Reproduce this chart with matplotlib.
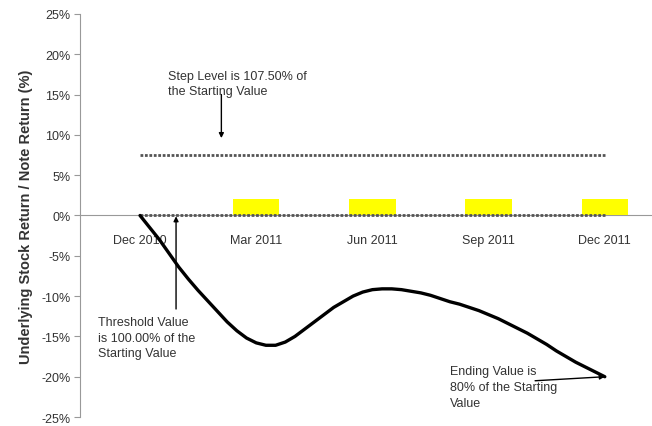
import matplotlib.pyplot as plt
import numpy as np

plt.rcParams['font.family'] = ['Liberation Sans', 'DejaVu Sans']

# months after Dec 2010, every quarter month
months = [0, 0.25, 0.5, 0.75, 1, 1.25, 1.5, 1.75, 2, 2.25, 2.5, 2.75, 3,
          3.25, 3.5, 3.75, 4, 4.25, 4.5, 4.75, 5, 5.25, 5.5, 5.75, 6,
          6.25, 6.5, 6.75, 7, 7.25, 7.5, 7.75, 8, 8.25, 8.5, 8.75, 9,
          9.25, 9.5, 9.75, 10, 10.25, 10.5, 10.75, 11, 11.25, 11.5, 11.75, 12]
stock_return = [0, -1.5, -3.0, -4.7, -6.4, -7.9, -9.3, -10.6, -11.9, -13.2,
                -14.3, -15.2, -15.8, -16.1, -16.1, -15.7, -15.0, -14.1, -13.2,
                -12.3, -11.4, -10.7, -10.0, -9.5, -9.2, -9.1, -9.1, -9.2,
                -9.4, -9.6, -9.9, -10.3, -10.7, -11.0, -11.4, -11.8, -12.3,
                -12.8, -13.4, -14.0, -14.6, -15.3, -16.0, -16.8, -17.5,
                -18.2, -18.8, -19.4, -20.0]

quarter_pos = [0, 3, 6, 9, 12]
quarter_labels = ['Dec 2010', 'Mar 2011', 'Jun 2011', 'Sep 2011', 'Dec 2011']
note_return = [0, 2, 2, 2, 2]   # yellow bars (observation dates)

step_level = 7.5
threshold = 0.0
y_ticks = [25, 20, 15, 10, 5, 0, -5, -10, -15, -20, -25]

fig = plt.figure(figsize=(6.52, 4.27), dpi=100)
ax = fig.add_axes([0.1227, 0.021, 0.875, 0.944])

# yellow note-return bars
ax.bar(quarter_pos[1:], note_return[1:], width=1.2, color='#ffff00', zorder=2)

# step level and threshold dotted lines
ax.plot([quarter_pos[0], quarter_pos[-1]], [step_level, step_level],
        color='#555555', lw=2, ls=(0, (1, 0.6)), zorder=3)
ax.plot([quarter_pos[0], quarter_pos[-1]], [threshold, threshold],
        color='#555555', lw=2, ls=(0, (1, 0.6)), zorder=3)

# stock return curve
ax.plot(months, stock_return, color='black', lw=2.4, zorder=4,
        solid_capstyle='round', solid_joinstyle='round')

ax.set_xlim(-1.55, 13.18)
ax.set_ylim(-25, 25)

ax.spines['top'].set_visible(False)
ax.spines['right'].set_visible(False)
ax.spines['left'].set_color('#999999')
ax.spines['bottom'].set_position(('data', 0))
ax.spines['bottom'].set_color('#999999')
ax.spines['bottom'].set_zorder(1)

ax.set_yticks(y_ticks)
ax.set_yticklabels(['%d%%' % v for v in y_ticks])
ax.tick_params(axis='y', length=4, color='#999999', labelsize=9,
               labelcolor='#333333', pad=3)
ax.set_xticks(quarter_pos)
ax.set_xticklabels(quarter_labels)
ax.tick_params(axis='x', length=0, labelsize=9, labelcolor='#333333', pad=13)

ax.set_ylabel('Underlying Stock Return / Note Return (%)', fontsize=10.5,
              fontweight='bold', color='#333333', labelpad=6)

arrow = dict(arrowstyle='-|>', lw=1, color='black', mutation_scale=7,
             shrinkA=0, shrinkB=0)

ax.annotate('', xy=(2.10, 9.6), xytext=(2.10, 15.0), arrowprops=arrow)
ax.text(0.72, 18.1, 'Step Level is 107.50% of\nthe Starting Value',
        fontsize=9, color='#333333', va='top', ha='left', linespacing=1.4)

ax.annotate('', xy=(0.93, -0.1), xytext=(0.93, -11.6), arrowprops=arrow)
ax.text(-1.08, -12.5, 'Threshold Value\nis 100.00% of the\nStarting Value',
        fontsize=9, color='#333333', va='top', ha='left', linespacing=1.4)

ax.annotate('', xy=(12.0, -20.0), xytext=(10.2, -20.5), arrowprops=arrow)
ax.text(8.0, -18.6, 'Ending Value is\n80% of the Starting\nValue',
        fontsize=9, color='#333333', va='top', ha='left', linespacing=1.4)

fig.savefig('out.png', dpi=100)
